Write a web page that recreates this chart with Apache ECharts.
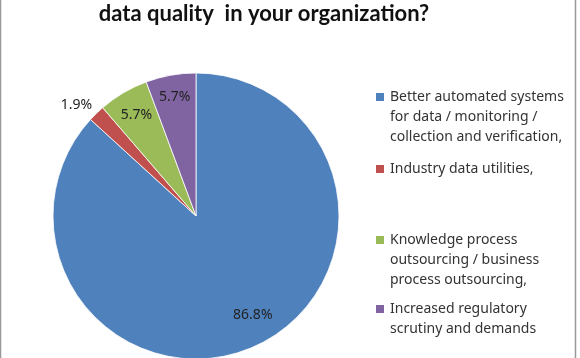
<!DOCTYPE html>
<html>
<head>
<meta charset="utf-8">
<script src="https://cdn.jsdelivr.net/npm/echarts@6/dist/echarts.min.js"></script>
<style>html,body{margin:0;padding:0;background:#fff}#c{width:580px;height:358px}</style>
</head>
<body>
<div id="c"></div>
<script>
const titleText = 'data quality  in your organization?';
const categories = [
  'Better automated systems\nfor data / monitoring /\ncollection and verification,',
  'Industry data utilities,',
  'Knowledge process\noutsourcing / business\nprocess outsourcing,',
  'Increased regulatory\nscrutiny and demands'
];
const counts = [46, 1, 3, 3];
const colors = ['#4F81BD', '#C0504D', '#9BBB59', '#8064A2'];

// label placement: fraction of radius, small angle tweak (deg)
const labelRadius = [0.80, 1.14, 0.82, 0.845];
const labelAngleShift = [-6, -3, 0, 0];
const legendFirstLineY = [97, 169, 240, 309];

const CX = 196, CY = 216, R = 143, LH = 20;
const total = counts.reduce((a, b) => a + b, 0);

const chart = echarts.init(document.getElementById('c'), null, {renderer: 'canvas'});

const legends = categories.map((name, i) => {
  const n = name.split('\n').length;
  return {
    orient: 'vertical',
    left: 374,
    top: legendFirstLineY[i] - LH / 2 - (n - 1) * LH,
    padding: 0,
    itemWidth: 10,
    itemHeight: 10,
    icon: 'rect',
    data: [name],
    selectedMode: false,
    formatter: nm => '\n'.repeat(n - 1) + nm,
    textStyle: {
      fontFamily: 'Noto Sans',
      fontSize: 14,
      color: '#333',
      lineHeight: LH
    }
  };
});

chart.setOption({
  backgroundColor: '#fff',
  animation: false,
  color: colors,
  title: {
    text: titleText,
    left: 259,
    top: -2,
    textAlign: 'center',
    textStyle: {fontFamily: 'Lato', fontWeight: 'bold', fontSize: 22, color: '#111'}
  },
  legend: legends,
  graphic: [{
    type: 'rect',
    shape: {x: 0.5, y: -5, width: 575, height: 370},
    style: {fill: 'none', stroke: '#999', lineWidth: 1.5},
    silent: true
  }],
  series: [{
    type: 'pie',
    center: [CX, CY],
    radius: [0, R],
    startAngle: 90,
    clockwise: true,
    avoidLabelOverlap: false,
    itemStyle: {borderColor: '#fff', borderWidth: 0.8},
    label: {
      show: true,
      position: 'inside',
      formatter: p => (p.value / total * 100).toFixed(1) + '%',
      fontFamily: 'Noto Sans',
      fontSize: 14,
      color: '#222'
    },
    labelLine: {show: false},
    labelLayout: function (params) {
      const i = params.dataIndex;
      const lr = params.labelRect;
      const lx = lr.x + lr.width / 2, ly = lr.y + lr.height / 2;
      const a = Math.atan2(ly - CY, lx - CX) + labelAngleShift[i] * Math.PI / 180;
      const d = labelRadius[i] * R;
      return {x: CX + d * Math.cos(a), y: CY + d * Math.sin(a), align: 'center', verticalAlign: 'middle'};
    },
    data: categories.map((name, i) => ({name: name, value: counts[i]}))
  }]
});
</script>
</body>
</html>
